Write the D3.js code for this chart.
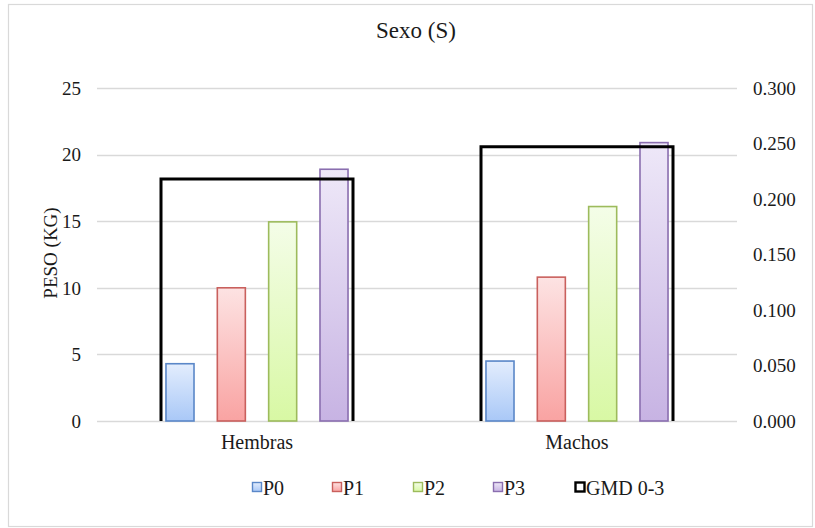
<!DOCTYPE html>
<html>
<head>
<meta charset="utf-8">
<script src="https://cdn.jsdelivr.net/npm/d3@7"></script>
<style>
  html, body { margin: 0; padding: 0; background: #fff; }
  svg text { font-family: "Liberation Serif", "Times New Roman", serif; fill: #1a1a1a; }
</style>
</head>
<body>
<svg id="chart" width="815" height="528"></svg>
<script>
// Categories and series
const categories = ["Hembras", "Machos"];
const series = ["P0", "P1", "P2", "P3"];

// Peso (kg) per period, one array per series (Hembras, Machos)
const P0 = [4.3, 4.5];
const P1 = [10.0, 10.8];
const P2 = [14.95, 16.1];
const P3 = [18.9, 20.9];

// Ganancia media diaria 0-3 on the secondary axis
const GMD = [0.218, 0.247];

// Axis ticks
const leftTicks = [0, 5, 10, 15, 20, 25];
const rightTicks = [0, 0.05, 0.1, 0.15, 0.2, 0.25, 0.3];

const seriesValues = { P0, P1, P2, P3 };

const palette = {
  P0: { top: "#e3edfd", bottom: "#a9c8f7", stroke: "#5a87c8" },
  P1: { top: "#fde3e3", bottom: "#f9a3a2", stroke: "#c9605d" },
  P2: { top: "#f4fde8", bottom: "#d8f8a4", stroke: "#9dbb5c" },
  P3: { top: "#eee8f8", bottom: "#c7b3e3", stroke: "#8a6eaf" }
};

const svg = d3.select("#chart");
const plot = { left: 97, right: 737, top: 88, bottom: 421 };

// Outer chart frame
svg.append("rect")
  .attr("x", 8.5).attr("y", 4.5)
  .attr("width", 804).attr("height", 522)
  .attr("fill", "#fff")
  .attr("stroke", "#d9d9d9")
  .attr("stroke-width", 1.2);

// Gradients for bar fills
const defs = svg.append("defs");
series.forEach(s => {
  const g = defs.append("linearGradient")
    .attr("id", "grad-" + s)
    .attr("x1", 0).attr("y1", 0).attr("x2", 0).attr("y2", 1);
  g.append("stop").attr("offset", "0%").attr("stop-color", palette[s].top);
  g.append("stop").attr("offset", "100%").attr("stop-color", palette[s].bottom);
});

// Scales
const x0 = d3.scaleBand()
  .domain(categories)
  .range([plot.left, plot.right])
  .paddingInner(0.4)
  .paddingOuter(0.2);

const x1 = d3.scaleBand()
  .domain(series)
  .range([0, x0.bandwidth()])
  .paddingInner(0.454)
  .paddingOuter(0.097);

const yL = d3.scaleLinear().domain([0, 25]).range([plot.bottom, plot.top]);
const yR = d3.scaleLinear().domain([0, 0.3]).range([plot.bottom, plot.top]);

// Gridlines
svg.append("g")
  .selectAll("line")
  .data(leftTicks)
  .join("line")
  .attr("x1", plot.left).attr("x2", plot.right)
  .attr("y1", d => Math.round(yL(d)) + 0.5)
  .attr("y2", d => Math.round(yL(d)) + 0.5)
  .attr("stroke", "#d9d9d9")
  .attr("stroke-width", 1.3);

// Left axis
const leftAxis = svg.append("g")
  .attr("transform", `translate(${plot.left - 16},0)`)
  .call(d3.axisLeft(yL).tickValues(leftTicks).tickSize(0).tickPadding(0).tickFormat(d3.format("d")));
leftAxis.select(".domain").remove();
leftAxis.selectAll("text")
  .attr("font-size", 19)
  .attr("dy", "0.33em")
  .style("font-family", "Liberation Serif, serif")
  .attr("fill", "#1a1a1a");

// Right axis
const rightAxis = svg.append("g")
  .attr("transform", `translate(${plot.right + 16},0)`)
  .call(d3.axisRight(yR).tickValues(rightTicks).tickSize(0).tickPadding(0).tickFormat(d3.format(".3f")));
rightAxis.select(".domain").remove();
rightAxis.selectAll("text")
  .attr("font-size", 19)
  .attr("dy", "0.33em")
  .style("font-family", "Liberation Serif, serif")
  .attr("fill", "#1a1a1a");

// Category labels
svg.append("g")
  .selectAll("text")
  .data(categories)
  .join("text")
  .attr("x", d => x0(d) + x0.bandwidth() / 2)
  .attr("y", 449)
  .attr("text-anchor", "middle")
  .attr("font-size", 20)
  .text(d => d);

// Bars
const groups = svg.append("g")
  .selectAll("g")
  .data(categories)
  .join("g")
  .attr("transform", d => `translate(${x0(d)},0)`);

groups.selectAll("rect")
  .data((c, i) => series.map(s => ({ s, v: seriesValues[s][i] })))
  .join("rect")
  .attr("x", d => x1(d.s))
  .attr("y", d => yL(d.v))
  .attr("width", x1.bandwidth())
  .attr("height", d => yL(0) - yL(d.v))
  .attr("fill", d => `url(#grad-${d.s})`)
  .attr("stroke", d => palette[d.s].stroke)
  .attr("stroke-width", 1.6);

// GMD 0-3 bars: open outline on the secondary axis
svg.append("g")
  .selectAll("path")
  .data(categories.map((c, i) => ({ c, v: GMD[i] })))
  .join("path")
  .attr("d", d => {
    const xa = x0(d.c), xb = x0(d.c) + x0.bandwidth();
    const yt = yR(d.v), yb = yR(0);
    return `M${xa},${yb}V${yt}H${xb}V${yb}`;
  })
  .attr("fill", "none")
  .attr("stroke", "#000")
  .attr("stroke-width", 3);

// Title
svg.append("text")
  .attr("x", 416)
  .attr("y", 38)
  .attr("text-anchor", "middle")
  .attr("font-size", 23)
  .text("Sexo (S)");

// Y axis title
svg.append("text")
  .attr("transform", "translate(57,253) rotate(-90)")
  .attr("text-anchor", "middle")
  .attr("font-size", 19)
  .text("PESO (KG)");

// Legend
const legendItems = [
  { key: "P0", label: "P0", x: 252 },
  { key: "P1", label: "P1", x: 332 },
  { key: "P2", label: "P2", x: 413 },
  { key: "P3", label: "P3", x: 493 },
  { key: "GMD", label: "GMD 0-3", x: 575 }
];
const legend = svg.append("g");
const li = legend.selectAll("g")
  .data(legendItems)
  .join("g")
  .attr("transform", d => `translate(${d.x},0)`);

li.append("rect")
  .attr("x", 0.5).attr("y", 482.5)
  .attr("width", 9).attr("height", 9)
  .attr("fill", d => d.key === "GMD" ? "none" : `url(#grad-${d.key})`)
  .attr("stroke", d => d.key === "GMD" ? "#000" : palette[d.key].stroke)
  .attr("stroke-width", d => d.key === "GMD" ? 2.4 : 1.4);

li.append("text")
  .attr("x", 11)
  .attr("y", 495)
  .attr("font-size", 20)
  .text(d => d.label);
</script>
</body>
</html>
